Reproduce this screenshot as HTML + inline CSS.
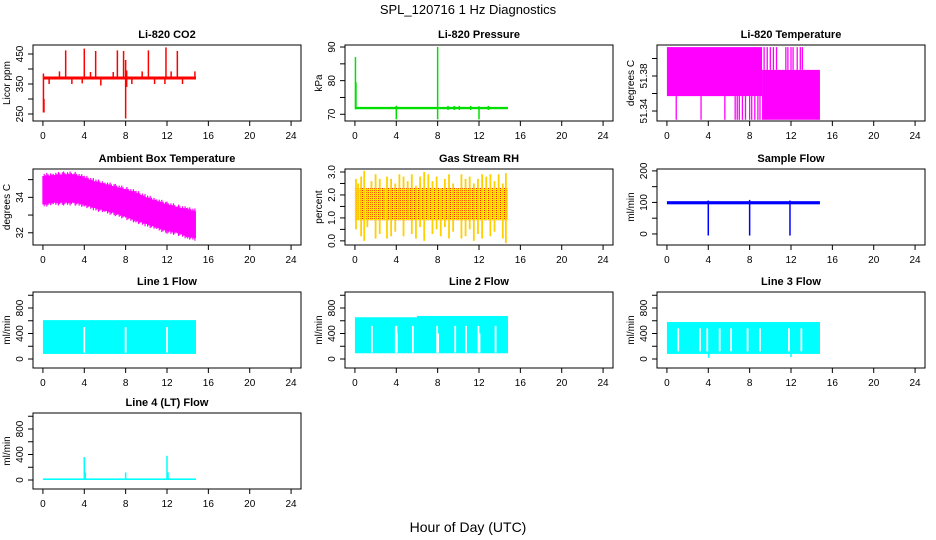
<!DOCTYPE html>
<html><head><meta charset="utf-8"><style>
body{margin:0;background:#fff}
svg{display:block;font-family:"Liberation Sans",sans-serif}
</style></head><body>
<svg id="fig" width="936" height="540" viewBox="0 0 936 540" xmlns="http://www.w3.org/2000/svg">
<defs>
<pattern id="rhpat" width="2" height="2" patternUnits="userSpaceOnUse">
<rect width="2" height="2" fill="#ffee00"/><rect x="0" y="0" width="1" height="1" fill="#ff2000"/>
</pattern>
</defs>
<text x="468" y="14" text-anchor="middle" font-size="13">SPL_120716  1 Hz Diagnostics</text>
<text x="468" y="532" text-anchor="middle" font-size="14">Hour of Day (UTC)</text>
</svg>
<script>
// ---- data ----
const xTicks = [0,4,8,12,16,20,24];
// CO2
const co2BlockStart=[0.0], co2BlockEnd=[14.8], co2BlockLo=[365], co2BlockHi=[375];
const co2SpikeT=[0.05,0.1,0.6,1.6,2.2,2.8,3.8,4.0,4.6,5.1,5.6,6.8,7.2,7.8,8.0,8.1,8.6,9.6,10.2,10.8,11.8,11.9,12.4,13.0,13.5,14.7];
const co2SpikeLo=[255,255,350,365,365,350,352,365,365,365,345,365,365,365,235,340,350,365,365,350,350,365,365,365,350,365];
const co2SpikeHi=[385,300,375,392,462,375,375,468,390,460,375,390,462,460,430,395,375,392,462,375,375,472,392,460,375,392];
// Pressure
const prBlockStart=[0.0], prBlockEnd=[14.8], prBlockLo=[71.5], prBlockHi=[72.2];
const prSpikeT=[0.05,0.1,4.0,8.0,9.0,9.6,10.1,11.2,12.0,12.9];
const prSpikeLo=[71.5,71.5,68.5,68.5,71.3,71.3,71.3,71.3,68.5,71.3];
const prSpikeHi=[87,79.5,72.5,90,72.5,72.5,72.5,72.5,72.4,72.5];
// Li-820 temperature
const ltBlockStart=[0.0,9.2], ltBlockEnd=[9.2,14.8], ltBlockLo=[51.357,51.330], ltBlockHi=[51.413,51.387];
const ltSpikeT=[0.9,3.3,5.6,6.6,6.8,7.0,7.3,7.6,8.0,8.2,8.5,8.8,9.0,9.4,9.7,10.0,10.3,10.6,11.5,11.7,12.0,12.2,12.6,12.9,13.1];
const ltSpikeLo=[51.330,51.330,51.330,51.330,51.330,51.330,51.330,51.330,51.330,51.330,51.330,51.330,51.330,51.387,51.387,51.387,51.387,51.387,51.387,51.387,51.387,51.387,51.387,51.387,51.387];
const ltSpikeHi=[51.357,51.357,51.357,51.357,51.357,51.357,51.357,51.357,51.357,51.357,51.357,51.357,51.357,51.413,51.413,51.413,51.413,51.413,51.413,51.413,51.413,51.413,51.413,51.413,51.413];
// Ambient box temperature envelope
const abT=[0,1,2,3,4,5,6,7,8,9,10,11,12,13,14,14.8];
const abHi=[35.2,35.25,35.3,35.3,35.1,34.9,34.75,34.6,34.45,34.25,34.0,33.8,33.6,33.45,33.3,33.2];
const abLo=[33.6,33.7,33.7,33.7,33.6,33.4,33.25,33.1,32.9,32.7,32.5,32.3,32.1,32.0,31.8,31.7];
// Gas stream RH
const rhBlockStart=[0.0], rhBlockEnd=[14.8], rhBlockLo=[0.9], rhBlockHi=[2.3];
const rhSpikeT=[0.1,0.3,0.6,0.9,1.2,1.6,2.0,2.4,2.8,3.1,3.5,3.9,4.3,4.7,5.1,5.5,5.9,6.3,6.7,7.1,7.5,7.9,8.3,8.7,9.1,9.5,9.9,10.3,10.7,11.1,11.5,11.9,12.3,12.7,13.1,13.5,13.9,14.3,14.6];
const rhSpikeLo=[0.5,0.9,0.2,0.0,0.6,0.9,0.1,0.3,0.9,0.1,0.2,0.4,0.9,0.2,0.9,0.3,0.1,0.6,0.0,0.9,0.3,0.5,0.2,0.6,0.1,0.4,0.9,0.1,0.2,0.5,0.0,0.3,0.1,0.9,0.2,0.4,0.9,0.1,-0.1];
const rhSpikeHi=[2.7,2.5,2.8,3.05,2.3,2.6,2.9,2.7,2.3,2.8,2.7,2.5,2.9,2.8,2.6,2.9,2.4,2.8,3.0,2.9,2.6,2.8,2.3,2.7,2.9,2.5,2.3,2.9,2.7,2.8,2.5,2.7,2.9,2.8,2.9,2.6,2.9,2.5,2.95];
// Sample flow
const sfBlockStart=[0.0], sfBlockEnd=[14.8], sfBlockLo=[94], sfBlockHi=[104];
const sfSpikeT=[4.0,8.0,11.9];
const sfSpikeLo=[-5,-5,-5];
const sfSpikeHi=[106,108,106];
// Line 1 flow
const l1BlockStart=[0.0], l1BlockEnd=[14.8], l1BlockLo=[80], l1BlockHi=[610];
const l1GapT=[4.0,8.0,12.0];
const l1GapLo=[100,100,100], l1GapHi=[500,500,500];
// Line 2 flow
const l2BlockStart=[0.0,6.0], l2BlockEnd=[6.0,14.8], l2BlockLo=[90,90], l2BlockHi=[655,675];
const l2GapT=[1.64,3.95,4.02,4.05,5.6,7.95,8.05,9.7,10.75,11.95,12.05,13.6];
const l2GapLo=[100,100,100,100,100,100,100,100,100,100,100,100], l2GapHi=[520,520,520,400,520,520,400,520,520,520,400,520];
// Line 3 flow
const l3BlockStart=[0.0], l3BlockEnd=[14.8], l3BlockLo=[80], l3BlockHi=[580];
const l3GapT=[1.1,3.2,3.9,5.1,6.2,7.8,9.0,11.8,13.0];
const l3GapLo=[120,120,120,120,120,120,120,120,120], l3GapHi=[480,480,480,480,480,480,480,480,480];
const l3SpikeT=[4.05,12.0], l3SpikeLo=[20,30], l3SpikeHi=[90,90];
// Line 4 flow
const l4BlockStart=[0.0], l4BlockEnd=[14.8], l4BlockLo=[0], l4BlockHi=[25];
const l4SpikeT=[4.0,4.1,8.0,12.0,12.1], l4SpikeLo=[0,0,0,0,0], l4SpikeHi=[360,120,120,380,120];

// ---- layout ----
const svg=document.getElementById('fig');
const NS='http://www.w3.org/2000/svg';
const colL=[33,345,657], rowT=[45,169,292,413], W=268, H=76;
const XMIN=-0.96, XMAX=24.96;
function mk(tag,attrs,parent){const e=document.createElementNS(NS,tag);for(const k in attrs)e.setAttribute(k,attrs[k]);(parent||svg).appendChild(e);return e;}

function panel(p){
  const x0=colL[p.col], y0=rowT[p.row];
  const g=mk('g',{});
  
  
  const sx=t=>x0+(t-XMIN)/(XMAX-XMIN)*W;
  const sy=v=>y0+H-(v-p.ymin)/(p.ymax-p.ymin)*H;
  const cid='c'+p.name;
  const cp=mk('clipPath',{id:cid},g); mk('rect',{x:x0,y:y0,width:W,height:H},cp);
  const dg=mk('g',{'clip-path':'url(#'+cid+')'},g);
  
  
  const fill=p.fill||p.color;
  if(p.bs){for(let i=0;i<p.bs.length;i++){
    const r=mk('rect',{x:sx(p.bs[i]),y:sy(p.bh[i]),width:sx(p.be[i])-sx(p.bs[i]),height:Math.max(1,sy(p.bl[i])-sy(p.bh[i])),fill:fill},dg);
    
    
  }}
  if(p.et){let d='M'+sx(p.et[0])+','+sy(p.eh[0]);
    for(let i=1;i<p.et.length;i++)d+='L'+sx(p.et[i])+','+sy(p.eh[i]);
    for(let i=p.et.length-1;i>=0;i--)d+='L'+sx(p.et[i])+','+sy(p.el[i]);
    const a=mk('path',{d:d+'Z',fill:fill},dg);
    
    
    for(let i=0;i<p.et.length-1;i++){for(let k=0;k<8;k++){const t=p.et[i]+(p.et[i+1]-p.et[i])*k/8;const f=k/8;
      const hi=p.eh[i]+(p.eh[i+1]-p.eh[i])*f, lo=p.el[i]+(p.el[i+1]-p.el[i])*f;
      const j=((i*7+k*3)%5)/5*0.2;
      const l=mk('line',{x1:sx(t),x2:sx(t),y1:sy(hi+j),y2:sy(lo-j),stroke:fill,'stroke-width':1.2},dg);
      
      }}
  }
  if(p.gt){for(let i=0;i<p.gt.length;i++){
    const l=mk('line',{x1:sx(p.gt[i]),x2:sx(p.gt[i]),y1:sy(p.gh[i]),y2:sy(p.gl[i]),stroke:'#fff','stroke-width':1.8},dg);
    
    
  }}
  if(p.st){for(let i=0;i<p.st.length;i++){
    const l=mk('line',{x1:sx(p.st[i]),x2:sx(p.st[i]),y1:sy(p.sh[i]),y2:sy(p.sl[i]),stroke:p.spikeColor||p.color,'stroke-width':p.sw||1.5},dg);
    
    
  }}
  const bx=mk('rect',{x:x0,y:y0,width:W,height:H,fill:'none',stroke:'#000','stroke-width':1},g);
  
  
  xTicks.forEach(t=>{
    mk('line',{x1:sx(t),x2:sx(t),y1:y0+H,y2:y0+H+5,stroke:'#000'},g);
    const tx=mk('text',{x:sx(t),y:y0+H+18,'text-anchor':'middle','font-size':10},g);
    tx.textContent=t;
    
    
  });
  p.yt.forEach((v,i)=>{
    const y=sy(v);
    mk('line',{x1:x0-5,x2:x0,y1:y,y2:y,stroke:'#000'},g);
    if(p.yl[i]!==''){
      const tx=mk('text',{x:x0-10,y:y,'text-anchor':'middle','font-size':10,transform:'rotate(-90 '+(x0-10)+' '+y+')'},g);
      tx.textContent=p.yl[i];
      
      
    }
  });
  const yl=mk('text',{x:x0-23,y:y0+H/2,'text-anchor':'middle','font-size':10,transform:'rotate(-90 '+(x0-23)+' '+(y0+H/2)+')'},g);
  yl.textContent=p.ylab;
  
  
  const tt=mk('text',{x:x0+W/2,y:y0-7,'text-anchor':'middle','font-size':11,'font-weight':'bold'},g);
  tt.textContent=p.title;
  
  
}
const flowT=[0,200,400,600,800,1000], flowL=['0','','400','','800',''];
panel({name:'co2',row:0,col:0,title:'Li-820 CO2',ylab:'Licor ppm',color:'#ff0000',ymin:226.7,ymax:480,yt:[250,300,350,400,450],yl:['250','','350','','450'],bs:co2BlockStart,be:co2BlockEnd,bl:co2BlockLo,bh:co2BlockHi,st:co2SpikeT,sl:co2SpikeLo,sh:co2SpikeHi});
panel({name:'pressure',row:0,col:1,title:'Li-820 Pressure',ylab:'kPa',color:'#00e000',ymin:68.0,ymax:90.6,yt:[70,75,80,85,90],yl:['70','','80','','90'],bs:prBlockStart,be:prBlockEnd,bl:prBlockLo,bh:prBlockHi,st:prSpikeT,sl:prSpikeLo,sh:prSpikeHi});
panel({name:'li820-temp',row:0,col:2,title:'Li-820 Temperature',ylab:'degrees C',color:'#ff00ff',ymin:51.3286,ymax:51.4154,yt:[51.34,51.36,51.38,51.40],yl:['51.34','','51.38',''],bs:ltBlockStart,be:ltBlockEnd,bl:ltBlockLo,bh:ltBlockHi,st:ltSpikeT,sl:ltSpikeLo,sh:ltSpikeHi,sw:1.3});
panel({name:'ambient-temp',row:1,col:0,title:'Ambient Box Temperature',ylab:'degrees C',color:'#ff00ff',ymin:31.31,ymax:35.6,yt:[32,33,34,35],yl:['32','','34',''],et:abT,eh:abHi,el:abLo});
panel({name:'rh',row:1,col:1,title:'Gas Stream RH',ylab:'percent',color:'#ffcc00',fill:'url(#rhpat)',spikeColor:'#ffd000',ymin:-0.18,ymax:3.13,yt:[0,0.5,1,1.5,2,2.5,3],yl:['0.0','','1.0','','2.0','','3.0'],bs:rhBlockStart,be:rhBlockEnd,bl:rhBlockLo,bh:rhBlockHi,st:rhSpikeT,sl:rhSpikeLo,sh:rhSpikeHi,sw:1.8});
panel({name:'sample-flow',row:1,col:2,title:'Sample Flow',ylab:'ml/min',color:'#0000ff',ymin:-35,ymax:206,yt:[0,50,100,150,200],yl:['0','','100','','200'],bs:sfBlockStart,be:sfBlockEnd,bl:sfBlockLo,bh:sfBlockHi,st:sfSpikeT,sl:sfSpikeLo,sh:sfSpikeHi});
panel({name:'line1-flow',row:2,col:0,title:'Line 1 Flow',ylab:'ml/min',color:'#00ffff',ymin:-141,ymax:1051,yt:flowT,yl:flowL,bs:l1BlockStart,be:l1BlockEnd,bl:l1BlockLo,bh:l1BlockHi,gt:l1GapT,gl:l1GapLo,gh:l1GapHi});
panel({name:'line2-flow',row:2,col:1,title:'Line 2 Flow',ylab:'ml/min',color:'#00ffff',ymin:-141,ymax:1051,yt:flowT,yl:flowL,bs:l2BlockStart,be:l2BlockEnd,bl:l2BlockLo,bh:l2BlockHi,gt:l2GapT,gl:l2GapLo,gh:l2GapHi});
panel({name:'line3-flow',row:2,col:2,title:'Line 3 Flow',ylab:'ml/min',color:'#00ffff',ymin:-141,ymax:1051,yt:flowT,yl:flowL,bs:l3BlockStart,be:l3BlockEnd,bl:l3BlockLo,bh:l3BlockHi,gt:l3GapT,gl:l3GapLo,gh:l3GapHi,st:l3SpikeT,sl:l3SpikeLo,sh:l3SpikeHi});
panel({name:'line4-flow',row:3,col:0,title:'Line 4 (LT) Flow',ylab:'ml/min',color:'#00ffff',ymin:-141,ymax:1051,yt:flowT,yl:flowL,bs:l4BlockStart,be:l4BlockEnd,bl:l4BlockLo,bh:l4BlockHi,st:l4SpikeT,sl:l4SpikeLo,sh:l4SpikeHi});
</script>
</body></html>
